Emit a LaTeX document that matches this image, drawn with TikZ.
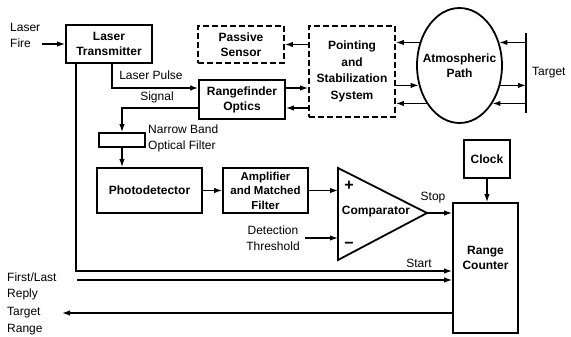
\documentclass[tikz,border=0pt]{standalone}
\usepackage{fontspec}
\setmainfont{Liberation Sans}
\usetikzlibrary{arrows.meta,calc,shapes.geometric}
\begin{document}
\begin{tikzpicture}[x=1pt,y=-1pt,
  box/.style={draw,line width=1.8pt,rectangle,inner sep=0pt,align=center,font=\bfseries\fontsize{12}{15}\selectfont},
  dbox/.style={box,dash pattern=on 6pt off 3pt},
  btxt/.style={inner sep=0pt,align=center,font=\bfseries\fontsize{12}{15}\selectfont},
  lbl/.style={font=\fontsize{12}{16}\selectfont,inner sep=0pt,align=left},
  arr/.style={line width=1.3pt,-{Latex[length=8pt,width=5.5pt]}},
  ln/.style={line width=1.3pt}]
\useasboundingbox (0,0) rectangle (571,337);

% boxes
\node[box,minimum width=86pt,minimum height=38pt] (lt) at (109,44) {Laser\\Transmitter};
\node[dbox,minimum width=86pt,minimum height=37pt] (ps) at (241,44.5) {Passive\\Sensor};
\node[box,minimum width=86pt,minimum height=39pt] (rf) at (242,99.5) {Rangefinder\\Optics};
\node[dbox,minimum width=86pt,minimum height=91pt,font=\bfseries\fontsize{12}{16.5}\selectfont] (pss) at (352,71.5) {Pointing\\and\\Stabilization\\System};
\node[ellipse,draw,line width=1.8pt,minimum width=85pt,minimum height=115pt,inner sep=0pt] (atm) at (459.5,65.5) {};
\node[btxt] (atmt) at (atm.center) {Atmospheric\\Path};
\node[draw,line width=1.8pt,minimum width=46pt,minimum height=14pt,inner sep=0pt] (nbf) at (122,140) {};
\node[box,minimum width=105pt,minimum height=45pt] (pd) at (149.5,190.5) {Photodetector};
\node[box,minimum width=85pt,minimum height=45pt,font=\bfseries\fontsize{11.5}{14.5}\selectfont] (amf) at (265.5,190.5) {Amplifier\\and Matched\\Filter};
\node[box,minimum width=46pt,minimum height=38pt] (clk) at (487,159) {Clock};
\node[box,minimum width=65pt,minimum height=130pt] (rc) at (485.5,268) {};
\node[btxt] (rct) at (485.5,258) {Range\\Counter};

% comparator
\coordinate (c1) at (338,168);
\coordinate (c2) at (338,260);
\coordinate (c3) at (427,213);
\draw[line width=1.8pt,line join=miter] (c1) -- (c3) -- (c2) -- cycle;
\node[btxt] (cmpt) at (376,212) {Comparator};
\node[inner sep=0pt,font=\bfseries\fontsize{16}{16}\selectfont] (cplus) at (349,186) {+};
\node[inner sep=0pt,font=\bfseries\fontsize{16}{16}\selectfont] (cminus) at (349,245) {−};

% target
\coordinate (tt) at (526,33);
\coordinate (tb) at (526,113);
\draw[ln] (tt) -- (tb);
\node[lbl,anchor=west] (tgt) at (532,73) {Target};

% labels
\node[lbl,anchor=west] (lf) at (10,35.5) {Laser\\Fire};
\node[lbl] (lpl) at (151,75) {Laser Pulse};
\node[lbl] (sgl) at (157,97) {Signal};
\node[lbl,anchor=west] (nbfl) at (148,138.5) {Narrow Band\\Optical Filter};
\node[lbl,align=center] (dt) at (273,238) {Detection\\Threshold};
\node[lbl] (stop) at (433,198) {Stop};
\node[lbl] (start) at (419,263) {Start};
\node[lbl,anchor=west] (fll) at (7,286) {First/Last\\Reply};
\node[lbl,anchor=west,font=\fontsize{12}{17}\selectfont] (trl) at (7,321) {Target\\Range};

% connectors
\coordinate (lfa) at (42,44);
\draw[arr] (lfa) -- (lfa -| lt.west);
\coordinate (lp) at (112,88);
\draw[arr] (lt.south -| lp) -- (lp) -- (lp -| rf.west);
\coordinate (sg) at (122,108);
\draw[arr] (sg -| rf.west) -- (sg) -- (nbf.north);
\draw[arr] (nbf.south) -- (nbf.south |- pd.north);
\draw[arr] (pd.east) -- (amf.west);
\draw[arr] (amf.east) -- (amf.east -| c1);
\draw[arr] ([xshift=5pt]dt.east) -- (dt.east -| c1);
\draw[arr] (c3) -- (c3 -| rc.west);
\draw[arr] (clk.south) -- (clk.south |- rc.north);
\coordinate (sc) at (76,271);
\draw[arr] (lt.south -| sc) -- (sc) -- (sc -| rc.west);
\coordinate (fl) at (77,280);
\draw[arr] (fl) -- (fl -| rc.west);
\coordinate (tr) at (62,313);
\draw[arr] (tr -| rc.west) -- (tr);

% passive sensor / rangefinder <-> pointing
\draw[arr] (ps.east -| pss.west) -- (ps.east);
\coordinate (rA) at ([yshift=11.5pt]rf.east);
\coordinate (rB) at ([yshift=-8.5pt]rf.east);
\draw[arr] (rA) -- (rA -| pss.west);
\draw[arr] (rB -| pss.west) -- (rB);

% pointing <-> atmospheric path
\draw[arr] (atm.150) -- (atm.150 -| pss.east);
\draw[arr] (atm.206 -| pss.east) -- (atm.206);
\draw[arr] (atm.229) -- (atm.229 -| pss.east);

% atmospheric path <-> target
\draw[arr] (atm.30 -| tt) -- (atm.30);
\draw[arr] (atm.334) -- (atm.334 -| tt);
\draw[arr] (atm.311 -| tt) -- (atm.311);
\end{tikzpicture}
\end{document}
